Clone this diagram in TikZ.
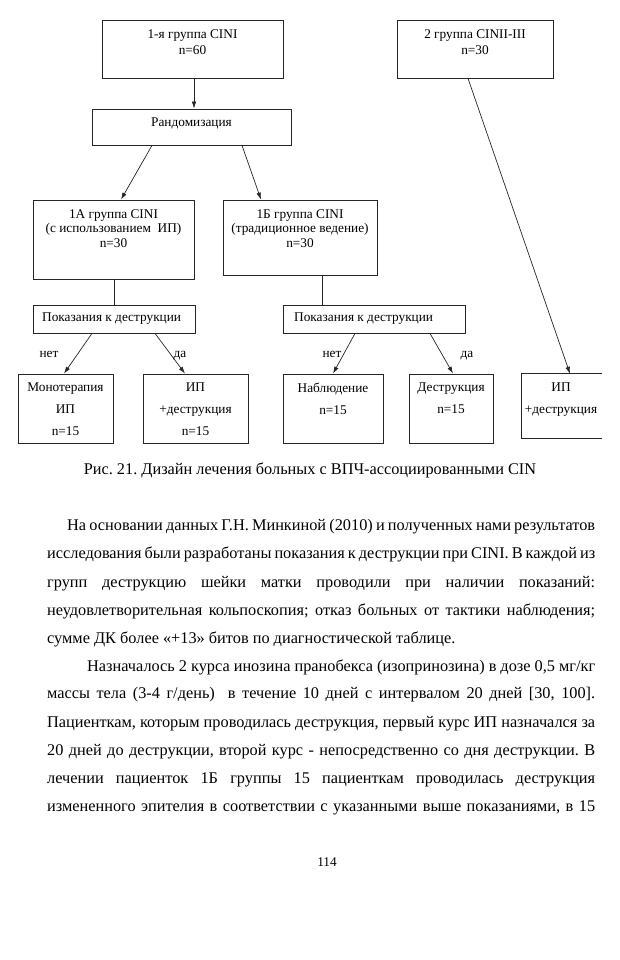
\documentclass[tikz,border=0pt]{standalone}
\usepackage{fontspec}
\setmainfont{Liberation Serif}
\usepackage{tikz}
\usetikzlibrary{shapes,positioning,calc}
\usetikzlibrary{arrows.meta}
\tikzstyle{blok} = [rectangle, draw=black!85, line width=0.8pt, inner sep=0pt]
\tikzstyle{tekst} = [anchor=north, inner sep=0pt, align=center, font=\fontsize{13.3}{14.5}\selectfont]
\tikzstyle{niz} = [anchor=north, inner sep=0pt, align=center, font=\fontsize{13.3}{22}\selectfont]
\tikzstyle{metka} = [anchor=mid, inner sep=0pt, yshift=-2.5pt, font=\fontsize{13.3}{15}\selectfont]
\tikzstyle{arrow} = [line width=0.7pt, draw=black!85, -{Latex[length=7pt,width=4.5pt]}]
\tikzstyle{linija} = [line width=0.7pt, draw=black!85]
\tikzstyle{stroka} = [anchor=mid west, inner sep=0pt, yshift=-3pt, font=\fontsize{16.3}{20}\selectfont\frenchspacing]
\newcommand{\rovno}[2]{\makebox[#1pt][s]{#2}}

\begin{document}
\begin{tikzpicture}[x=1pt,y=-1pt]
\useasboundingbox (0,0) rectangle (619,960);
% группы
\node (g1) at (192.5,49) [blok, minimum width=181pt, minimum height=58pt] {};
\node (g1t) [tekst, below=9.5pt of g1.north, font=\fontsize{13.3}{16}\selectfont] {1-я группа CINI\\n=60};
\node (g2) at (475,49) [blok, minimum width=156pt, minimum height=58pt] {};
\node (g2t) [tekst, below=9.5pt of g2.north, font=\fontsize{13.3}{16}\selectfont] {2 группа CINII-III\\n=30};
\node (rnd) at (191.5,127) [blok, minimum width=199pt, minimum height=36pt] {};
\node (rndt) at (191.5,122) [metka] {Рандомизация};
\node (g1a) at (113.5,239.5) [blok, minimum width=161pt, minimum height=79pt] {};
\node (g1at) [tekst, below=9.8pt of g1a.north] {1А группа CINI\\(с использованием\ \ ИП)\\n=30};
\node (g1b) at (300,237.5) [blok, minimum width=154pt, minimum height=75pt] {};
\node (g1bt) [tekst, below=9.8pt of g1b.north] {1Б группа CINI\\(традиционное ведение)\\n=30};
% показания
\node (pk1) at (114,319) [blok, minimum width=162pt, minimum height=28pt] {};
\node (pk1t) at (42,317) [metka, anchor=mid west] {Показания к деструкции};
\node (pk2) at (374,319) [blok, minimum width=182pt, minimum height=28pt] {};
\node (pk2t) at (294,317) [metka, anchor=mid west] {Показания к деструкции};
% исходы
\node (mono) at (65.5,408.5) [blok, minimum width=95pt, minimum height=69pt] {};
\node (monot) [niz, below=8.8pt of mono.north] {Монотерапия\\ИП\\n=15};
\node (ipd1) at (195.5,408.5) [blok, minimum width=105pt, minimum height=69pt] {};
\node (ipd1t) [niz, below=8.8pt of ipd1.north] {ИП\\+деструкция\\n=15};
\node (nabl) at (333,408.5) [blok, minimum width=100pt, minimum height=69pt] {};
\node (nablt) [niz, below=8.8pt of nabl.north] {Наблюдение\\n=15};
\node (destr) at (451,408.5) [blok, minimum width=84pt, minimum height=69pt] {};
\node (destrt) [niz, below=8.8pt of destr.north] {Деструкция\\n=15};
\node (ipd2) at (562,406) [minimum width=80pt, minimum height=64pt, inner sep=0pt] {};
\draw [linija] (ipd2.north east) -- (ipd2.north west) -- (ipd2.south west) -- (ipd2.south east);
\node (ipd2t) [niz, below=8.8pt of ipd2.north, xshift=-1pt] {ИП\\+деструкция};
% связи
\draw [arrow] ([xshift=1.5pt]g1.south) -- ([xshift=1.5pt]g1.south |- rnd.north);
\draw [arrow] ([xshift=-39.5pt]rnd.south) -- ([xshift=7.5pt]g1a.north);
\draw [arrow] ([xshift=50.5pt]rnd.south) -- ([xshift=-39pt]g1b.north);
\draw [arrow] ([xshift=-7pt]g2.south) -- ([xshift=8pt]ipd2.north);
\draw [linija] ([xshift=0.5pt]g1a.south) -- ([xshift=0.5pt]g1a.south |- pk1.north);
\draw [linija] ([xshift=22pt]g1b.south) -- ([xshift=22pt]g1b.south |- pk2.north);
\draw [arrow] ([xshift=-22pt]pk1.south) -- ([xshift=-1.5pt]mono.north);
\draw [arrow] ([xshift=41pt]pk1.south) -- ([xshift=-10.5pt]ipd1.north);
\draw [arrow] ([xshift=-19pt]pk2.south) -- (nabl.north);
\draw [arrow] ([xshift=56pt]pk2.south) -- ([xshift=2pt]destr.north);
\node (net1) at (49,353) [metka] {нет};
\node (da1) at (180,353) [metka] {да};
\node (net2) at (332,353) [metka] {нет};
\node (da2) at (467,353) [metka] {да};
% подпись и текст
\node (cap) at (310,469) [stroka, anchor=mid] {Рис. 21. Дизайн лечения больных с ВПЧ-ассоциированными CIN};
\node (s1) at (67,525) [stroka] {\rovno{528}{На основании данных Г.Н. Минкиной (2010) и полученных нами результатов}};
\node (s2) at (47,553) [stroka] {\rovno{548}{исследования были разработаны показания к деструкции при CINI. В каждой из}};
\node (s3) at (47,582) [stroka] {\rovno{548}{групп деструкцию шейки матки проводили при наличии показаний:}};
\node (s4) at (47,610) [stroka] {\rovno{548}{неудовлетворительная кольпоскопия; отказ больных от тактики наблюдения;}};
\node (s5) at (47,638) [stroka] {сумме ДК более «+13» битов по диагностической таблице.};
\node (s6) at (87,666) [stroka] {\rovno{508}{Назначалось 2 курса инозина пранобекса (изопринозина) в дозе 0,5 мг/кг}};
\node (s7) at (47,693) [stroka] {\rovno{548}{массы тела (3-4 г/день)\ \ в течение 10 дней с интервалом 20 дней [30, 100].}};
\node (s8) at (47,722) [stroka] {\rovno{548}{Пациенткам, которым проводилась деструкция, первый курс ИП назначался за}};
\node (s9) at (47,750) [stroka] {\rovno{548}{20 дней до деструкции, второй курс - непосредственно со дня деструкции. В}};
\node (s10) at (47,778) [stroka] {\rovno{548}{лечении пациенток 1Б группы 15 пациенткам проводилась деструкция}};
\node (s11) at (47,806) [stroka] {\rovno{548}{измененного эпителия в соответствии с указанными выше показаниями, в 15}};
\node (str) at (327,862) [metka] {114};
\end{tikzpicture}
\end{document}
